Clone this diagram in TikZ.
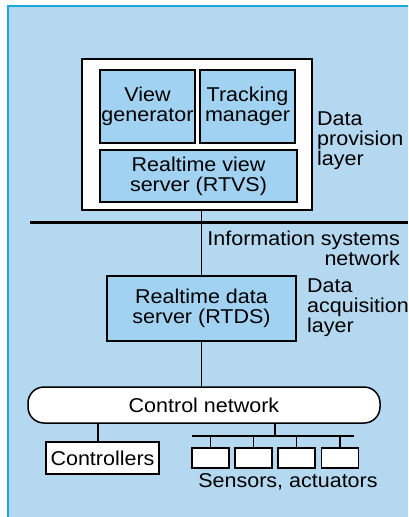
\documentclass[tikz,border=0pt]{standalone}
\usepackage{fontspec}
\setmainfont{Liberation Sans}[FakeStretch=1.075]
\definecolor{bgblue}{RGB}{180,216,240}
\definecolor{boxblue}{RGB}{162,210,242}
\definecolor{edgeblue}{RGB}{26,167,224}
\begin{document}
\begin{tikzpicture}[x=1pt, y=-1pt,
    every node/.style={font=\fontsize{20}{20}\selectfont, inner sep=0pt},
    srvbox/.style={draw, fill=boxblue, line width=1.5pt, align=center},
    plainbox/.style={draw, fill=white, line width=1.5pt, align=center},
    layertext/.style={align=left, anchor=north west}]
  % Background panel
  \useasboundingbox (0,0) rectangle (408,517);
  \fill[bgblue] (7,5) rectangle (408,517);
  \draw[edgeblue, line width=2pt] (7.5,517) -- (7.5,5.5) -- (408,5.5);

  % Data provision layer
  \node[plainbox, line width=1.8pt, minimum width=230, minimum height=151] (prov) at (197,134.5) {};
  \node[srvbox, minimum width=95, minimum height=73] (viewgen) at (147.5,106.5) {View\\generator};
  \node[srvbox, minimum width=95, minimum height=73] (tracker) at (247.5,106.5) {Tracking\\manager};
  \node[srvbox, minimum width=197, minimum height=52] (rtvs) at (198.5,176) {Realtime view\\server (RTVS)};
  \node[layertext] (provlabel) at (317,112) {Data\\provision\\layer};

  % Information systems network
  \coordinate (busL) at (30,222);
  \coordinate (busR) at (408,222);
  \draw[line width=3pt] (busL) -- (busR);
  \node[align=right, anchor=north east] (infolabel) at (400,231) {Information systems\\network};

  % Data acquisition layer
  \node[srvbox, minimum width=189, minimum height=65] (rtds) at (201.5,308.5) {Realtime data\\server (RTDS)};
  \node[layertext] (acqlabel) at (307,279) {Data\\acquisition\\layer};
  \draw[line width=1.4pt] (rtds.north |- prov.south) -- (rtds.north);

  % Control network
  \node[plainbox, rounded corners=16pt, minimum width=352, minimum height=36] (ctrlnet) at (204,405) {Control network};
  \draw[line width=1.4pt] (rtds.south) -- (rtds.south |- ctrlnet.north);

  % Controllers
  \node[plainbox, minimum width=113, minimum height=32] (controllers) at (102.5,458) {Controllers};
  \draw[line width=1.4pt] ([xshift=-4.5pt]controllers.north) -- ([xshift=-4.5pt]controllers.north |- ctrlnet.south);

  % Sensors, actuators
  \coordinate (sbusL) at (192,436);
  \coordinate (sbusR) at (354,436);
  \coordinate (sjoin) at (275,436);
  \draw[line width=1.4pt] (sbusL) -- (sbusR);
  \draw[line width=1.4pt] (sjoin) -- (sjoin |- ctrlnet.south);
  \foreach \i/\x in {1/210.5, 2/253.5, 3/296.5, 4/340} {
    \node[plainbox, minimum width=37, minimum height=20] (s\i) at (\x,458) {};
    \draw[line width=1.4pt] (s\i.north) -- (s\i.north |- sbusL);
  }
  \node[anchor=base] (senslabel) at (288,487) {Sensors, actuators};
\end{tikzpicture}
\end{document}
